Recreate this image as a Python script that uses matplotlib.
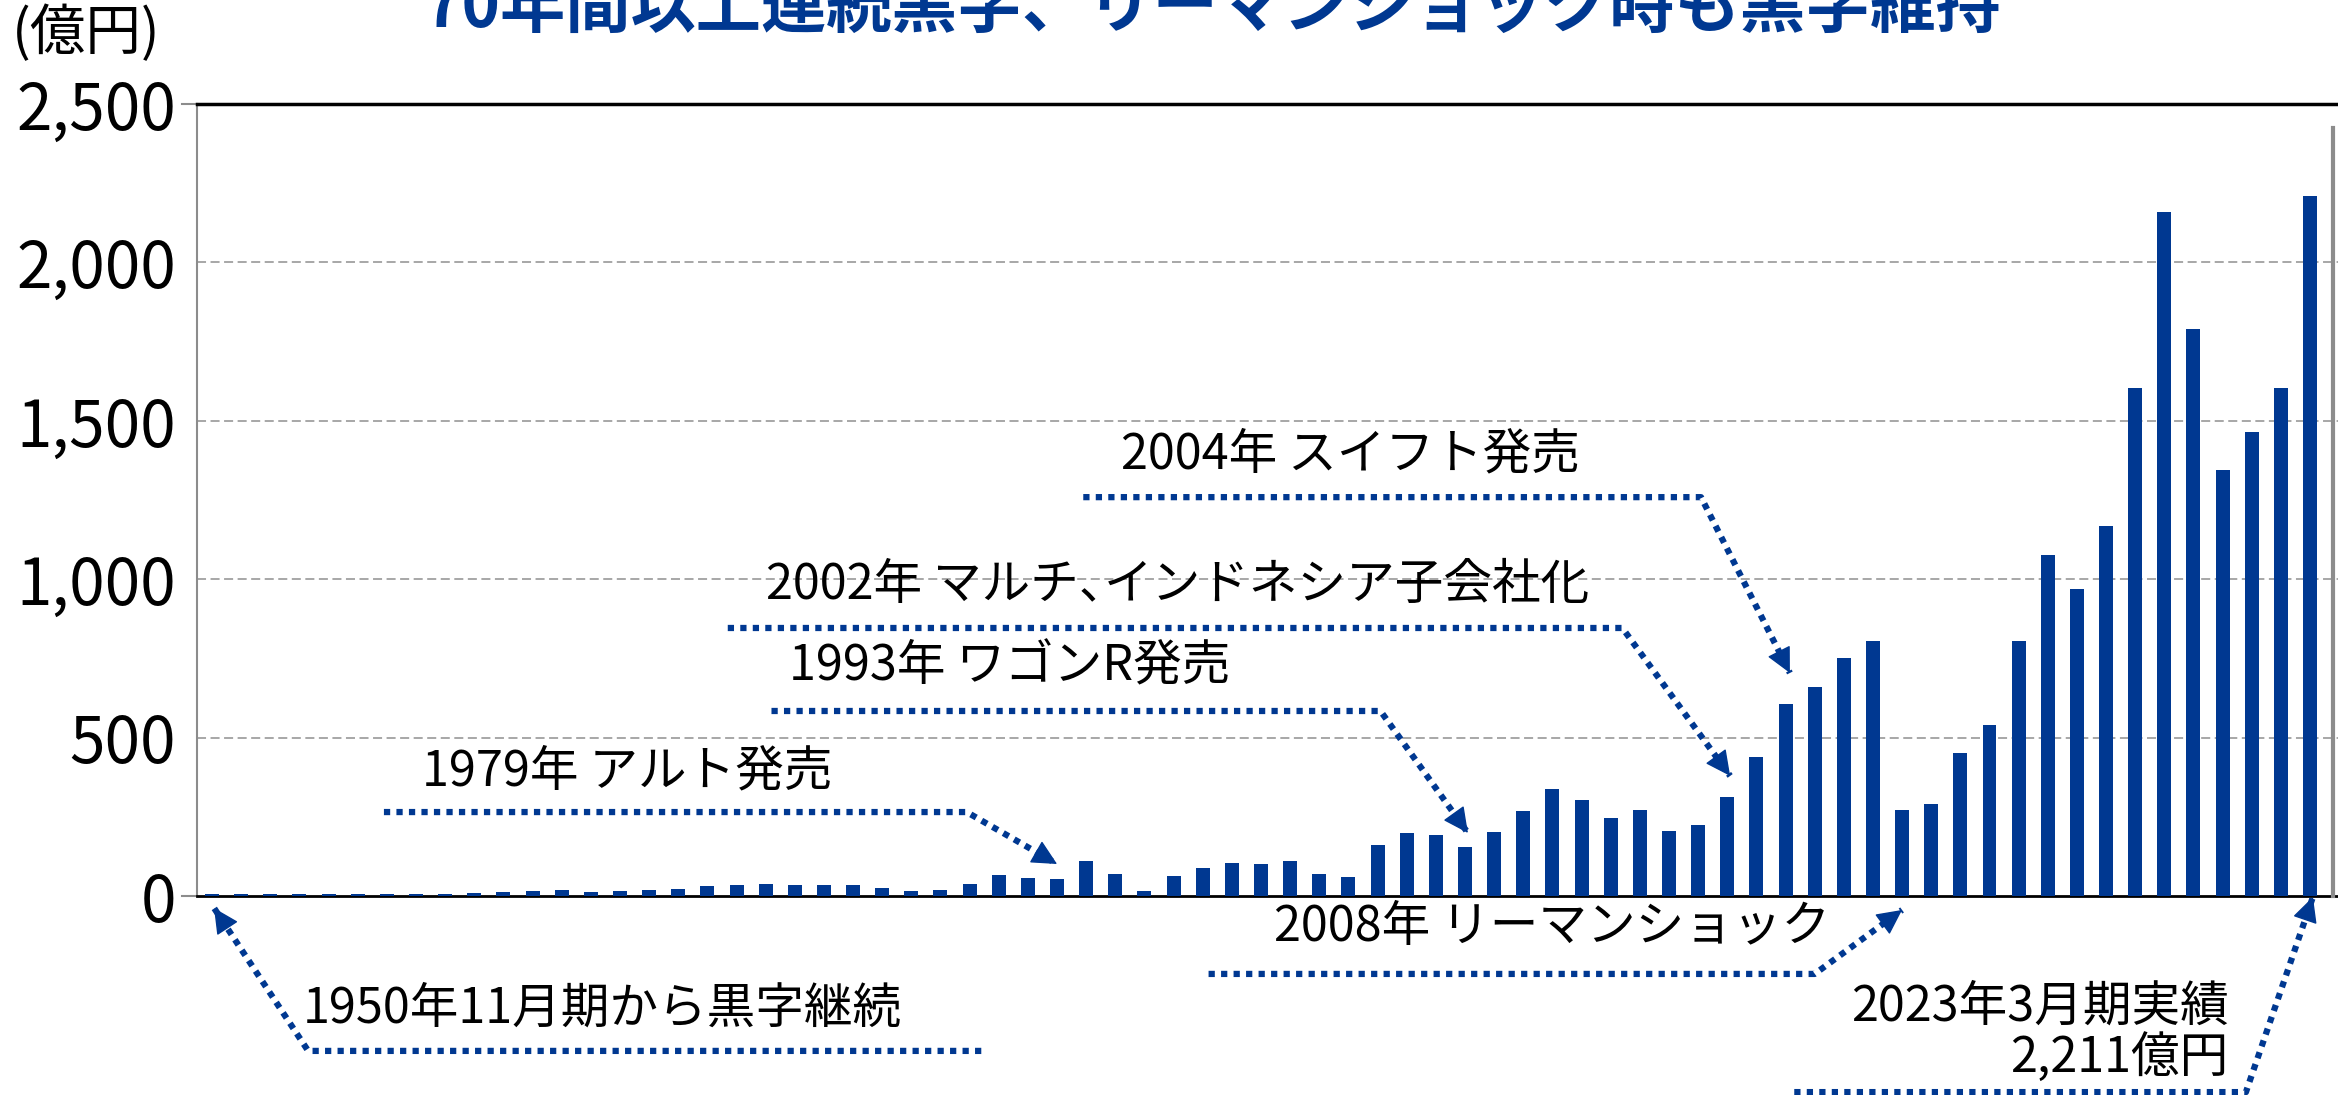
import numpy as np
import matplotlib.pyplot as plt
from matplotlib.lines import Line2D

plt.rcParams['font.family'] = ['Noto Sans CJK JP', 'DejaVu Sans']

BLUE = '#003891'
W, H = 2338, 1095

# 当期純利益（億円）: 1950年11月期 ... 2023年3月期
net_income = [
    5, 5, 5, 5, 5, 5, 5, 6, 7, 9, 13, 15, 19, 14,
    16, 20, 23, 30, 36, 38, 36, 36, 34, 25, 15, 19, 37, 66,
    56, 55, 110, 71, 17, 63, 87, 103, 100, 111, 68, 60, 161,
    199, 191, 154, 203, 267, 337, 304, 245, 270, 204, 225, 311, 439, 606,
    659, 751, 805, 273, 290, 452, 539, 805, 1076, 969, 1168, 1602, 2159,
    1789, 1344, 1465, 1605, 2211,
]
y_ticks = [0, 500, 1000, 1500, 2000, 2500]
y_tick_labels = ['0', '500', '1,000', '1,500', '2,000', '2,500']

title = '70年間以上連続黒字、リーマンショック時も黒字維持'
unit_label = '(億円)'

# callouts: text parts, text position, alignment, dotted path, arrow tip (data units)
callouts = [
    (['2004年 スイフト発売'], (31.2, 1392), 'left',
     [(29.9, 1259), (51.1, 1259)], (54.15, 704)),
    (['2002年 マルチ、', 'インドネシア子会社化'], (19.0, 982), 'left',
     [(17.7, 846), (48.4, 846)], (52.1, 379)),
    (['1993年 ワゴンR発売'], (19.8, 725), 'left',
     [(19.2, 584), (40.1, 584)], (43.1, 199)),
    (['1979年 アルト発売'], (7.2, 394), 'left',
     [(5.9, 265), (25.9, 265)], (29.0, 101)),
    (['2008年 リーマンショック'], (46.0, -98), 'center',
     [(34.2, -246), (55.0, -246)], (58.0, -44)),
    (['2023年3月期実績\n2,211億円'], (69.2, -432), 'right',
     [(54.3, -619), (69.8, -619)], (72.1, -3)),
    (['1950年11月期から黒字継続'], (3.1, -357), 'left',
     [(26.4, -489), (3.3, -489)], (0.07, -38)),
]

fig = plt.figure(figsize=(W / 100, H / 100), dpi=100)
ax = fig.add_axes([197 / W, 1 - 896 / H, (W - 197) / W, (896 - 104) / H])

x = np.arange(len(net_income))
ax.bar(x, net_income, width=0.48, color=BLUE, zorder=3)

ax.set_xlim(-0.515, 72.96)
ax.set_ylim(0, 2500)
ax.set_xticks([])
ax.set_yticks(y_ticks)
ax.set_yticklabels(y_tick_labels, fontsize=46)
ax.tick_params(axis='y', length=0, pad=15)
for v in y_ticks[1:-1]:
    ax.axhline(v, color='#a0a0a0', lw=1.3, ls=(0, (5, 2.5)), zorder=1)

ax.spines['right'].set_visible(False)
ax.spines['top'].set_color('black')
ax.spines['top'].set_linewidth(2.5)
ax.spines['bottom'].set_color('black')
ax.spines['bottom'].set_linewidth(2)
ax.spines['left'].set_color('#8c8c8c')
ax.spines['left'].set_linewidth(1.5)
for v in (0, 2500):
    ax.plot([-0.007, 0], [v, v], transform=ax.get_yaxis_transform(),
            color='#8c8c8c', lw=1.5, clip_on=False)

fig.add_artist(Line2D([2333 / W, 2333 / W], [1 - 128 / H, 1 - 896 / H],
                      transform=fig.transFigure, color='#8c8c8c', lw=3))

for parts, (tx, ty), ha, path, tip in callouts:
    t = ax.text(tx, ty, parts[0], ha=ha, va='center', fontsize=35,
                multialignment='right', linespacing=1.05, clip_on=False, zorder=5)
    for part in parts[1:]:
        # the ideographic comma only uses the left half of its box
        t = ax.annotate(part, xy=(1, 0.5), xycoords=t, xytext=(-17, 0),
                        textcoords='offset points', ha='left', va='center',
                        fontsize=35, zorder=5)
    pts = list(path) + [tip]
    xs, ys = zip(*pts)
    ax.plot(xs, ys, color=BLUE, lw=4.5, ls=(0, (1, 1)), dash_capstyle='butt',
            clip_on=False, zorder=4)
    p0 = ax.transData.transform(path[-1])
    p1 = ax.transData.transform(tip)
    u = (p1 - p0) / np.hypot(*(p1 - p0))
    ax.annotate('', xy=tip, xytext=tuple(-u * 16), textcoords='offset points',
                annotation_clip=False,
                arrowprops=dict(arrowstyle='-|>,head_length=0.8,head_width=0.4',
                                mutation_scale=20, color=BLUE, lw=1,
                                shrinkA=0, shrinkB=0),
                zorder=6)

fig.text(1213 / W, 1 - 41 / H, title, ha='center', va='bottom', fontsize=47,
         fontweight='bold', color=BLUE)
fig.text(12 / W, 1 - 34 / H, unit_label, ha='left', va='center', fontsize=40)

fig.savefig('out.png', dpi=100)
